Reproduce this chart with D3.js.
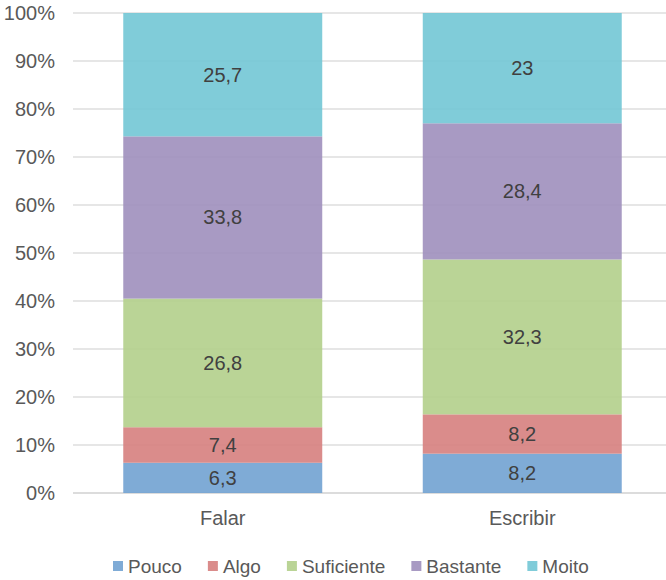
<!DOCTYPE html>
<html>
<head>
<meta charset="utf-8">
<script src="https://cdn.jsdelivr.net/npm/d3@7"></script>
<style>
  body { margin: 0; background: #fff; }
  text { font-family: "Liberation Sans", Arial, sans-serif; }
</style>
</head>
<body>
<svg width="666" height="580"></svg>
<script>
// chart data
const categories = ["Falar", "Escribir"];
const seriesNames = ["Pouco", "Algo", "Suficiente", "Bastante", "Moito"];
const pouco = [6.3, 8.2];
const algo = [7.4, 8.2];
const suficiente = [26.8, 32.3];
const bastante = [33.8, 28.4];
const moito = [25.7, 23];
const labels = [["6,3", "8,2"], ["7,4", "8,2"], ["26,8", "32,3"], ["33,8", "28,4"], ["25,7", "23"]];
const yTicks = [0, 0.1, 0.2, 0.3, 0.4, 0.5, 0.6, 0.7, 0.8, 0.9, 1];

const colors = ["#71a2d1", "#d6807e", "#b3cf8b", "#9e8fbd", "#72c6d5"];

const svg = d3.select("svg"),
    width = +svg.attr("width"),
    height = +svg.attr("height");

const seriesValues = [pouco, algo, suficiente, bastante, moito];

// table for d3.stack
const table = categories.map((c, i) => {
    const row = {cat: c};
    seriesNames.forEach((s, j) => row[s] = seriesValues[j][i]);
    return row;
});

const stacked = d3.stack()
    .keys(seriesNames)
    .offset(d3.stackOffsetExpand)(table);

const x = d3.scaleBand()
    .domain(categories)
    .range([73, 672])
    .paddingInner(0.3356)
    .paddingOuter(0.1678);

const y = d3.scaleLinear()
    .domain([0, 1])
    .range([493, 13]);

// gridlines
svg.append("g")
    .selectAll("line")
    .data(yTicks)
    .join("line")
    .attr("x1", 73)
    .attr("x2", 672)
    .attr("y1", d => y(d))
    .attr("y2", d => y(d))
    .attr("stroke", d => d == 0 ? "#d0d0d0" : "#dedede")
    .attr("stroke-width", 1.5);

// y tick labels
svg.append("g")
    .selectAll("text")
    .data(yTicks)
    .join("text")
    .attr("x", 55)
    .attr("y", d => y(d))
    .attr("dy", "0.35em")
    .attr("text-anchor", "end")
    .style("font-size", "20px")
    .style("fill", "#595959")
    .text(d => Math.round(d * 100) + "%");

// bars
const groups = svg.append("g")
    .selectAll("g")
    .data(stacked)
    .join("g")
    .attr("fill", (d, i) => colors[i])
    .attr("fill-opacity", 0.9);

groups.selectAll("rect")
    .data(d => d)
    .join("rect")
    .attr("x", d => x(d.data.cat))
    .attr("width", x.bandwidth())
    .attr("y", d => y(d[1]))
    .attr("height", d => y(d[0]) - y(d[1]));

// value labels
stacked.forEach((s, i) => {
    svg.append("g")
        .selectAll("text")
        .data(s)
        .join("text")
        .attr("x", d => x(d.data.cat) + x.bandwidth() / 2)
        .attr("y", d => (y(d[0]) + y(d[1])) / 2)
        .attr("dy", "0.35em")
        .attr("text-anchor", "middle")
        .style("font-size", "20px")
        .style("fill", "#404040")
        .text((d, j) => labels[i][j]);
});

// category labels
svg.append("g")
    .selectAll("text")
    .data(categories)
    .join("text")
    .attr("x", d => x(d) + x.bandwidth() / 2)
    .attr("y", 518)
    .attr("dy", "0.35em")
    .attr("text-anchor", "middle")
    .style("font-size", "20px")
    .style("fill", "#595959")
    .text(d => d);

// legend
const legend = svg.append("g");
let lx = 113;
seriesNames.forEach((name, i) => {
    legend.append("rect")
        .attr("x", lx)
        .attr("y", 561)
        .attr("width", 10)
        .attr("height", 10)
        .attr("fill", colors[i])
        .attr("fill-opacity", 0.9);
    const t = legend.append("text")
        .attr("x", lx + 15)
        .attr("y", 566)
        .attr("dy", "0.35em")
        .style("font-size", "19px")
        .style("fill", "#595959")
        .text(name);
    lx += 15 + t.node().getComputedTextLength() + 26;
});
</script>
</body>
</html>
